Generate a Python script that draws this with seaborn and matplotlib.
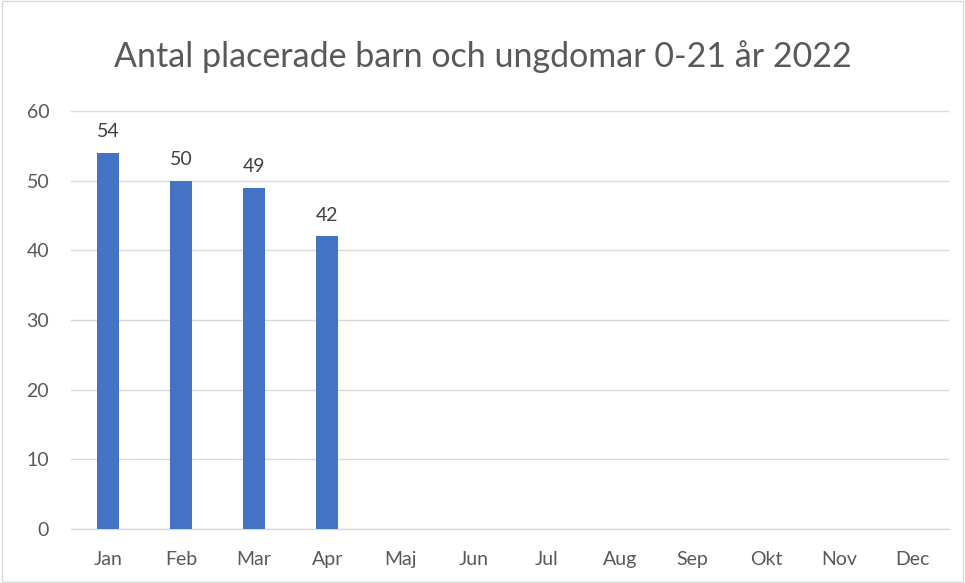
import matplotlib
matplotlib.use("Agg")
import matplotlib.pyplot as plt
import seaborn as sns
import pandas as pd
from matplotlib.patches import Rectangle

months = ["Jan", "Feb", "Mar", "Apr", "Maj", "Jun", "Jul", "Aug", "Sep", "Okt", "Nov", "Dec"]
values = [54, 50, 49, 42, None, None, None, None, None, None, None, None]
title = "Antal placerade barn och ungdomar 0-21 år 2022"
yticks = [0, 10, 20, 30, 40, 50, 60]

sns.set_theme(style="white")
plt.rcParams['font.family'] = ['Lato', 'DejaVu Sans']

df = pd.DataFrame({"month": months, "value": values})

fig = plt.figure(figsize=(9.65, 5.83), dpi=100)
ax = fig.add_axes([0.074, 0.0926, 0.909, 0.717])

sns.barplot(data=df, x="month", y="value", order=months, color="#4472C4",
            width=0.3, saturation=1, ax=ax, zorder=3, linewidth=0)

ax.set_ylim(0, 60)
ax.set_yticks(yticks)
ax.set_xlim(-0.5, len(months) - 0.5)
ax.yaxis.grid(True, color="#D9D9D9", linewidth=1, zorder=0)
ax.set_axisbelow(True)
for s in ["top", "right", "left"]:
    ax.spines[s].set_visible(False)
ax.spines["bottom"].set_color("#D9D9D9")
ax.spines["bottom"].set_linewidth(1)
ax.set_xlabel("")
ax.set_ylabel("")
ax.tick_params(axis="both", length=0, labelsize=14, labelcolor="#595959")
ax.tick_params(axis="y", pad=16)
ax.tick_params(axis="x", pad=16)

for i, v in enumerate(values):
    if v is not None:
        ax.annotate(f"{v}", (i, v), xytext=(0, 9), textcoords="offset points",
                    ha="center", va="bottom", fontsize=14, color="#404040")

fig.text(0.5, 0.903, title, ha="center", va="center", fontsize=24.5, color="#595959")
fig.patches.append(Rectangle((0.002, 0.002), 0.996, 0.996, transform=fig.transFigure,
                             fill=False, edgecolor="#D9D9D9", linewidth=1))

fig.savefig("out.png", dpi=100)
